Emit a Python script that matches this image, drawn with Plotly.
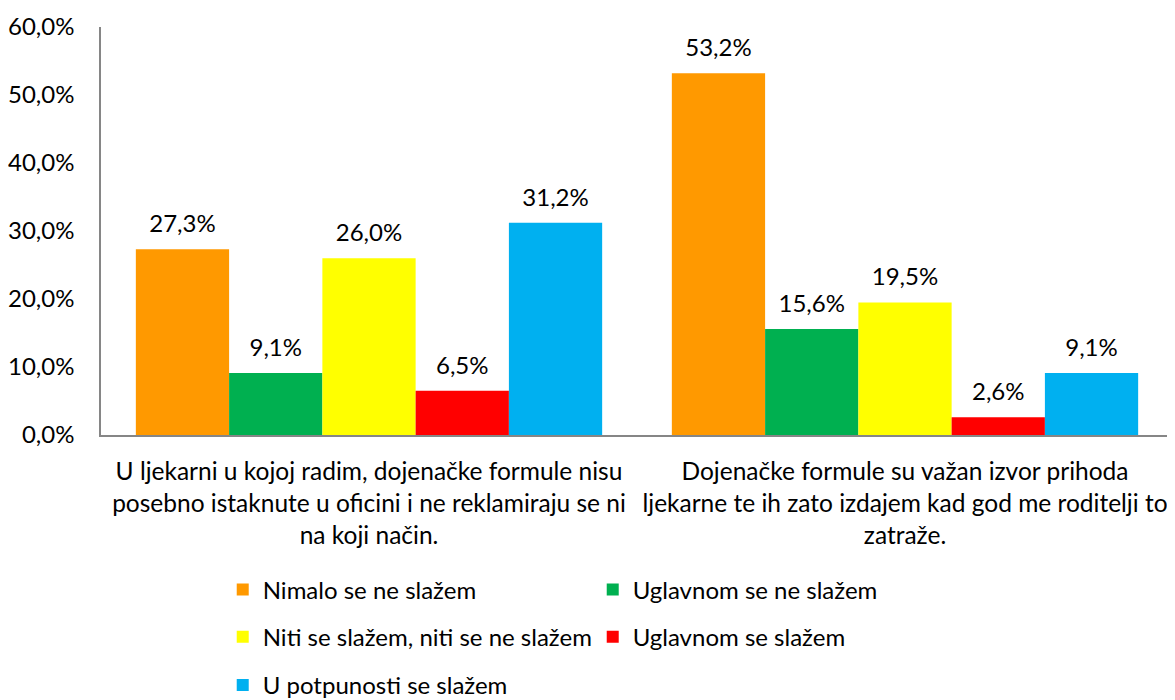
import plotly.graph_objects as go

categories = [
    "U ljekarni u kojoj radim, dojenačke formule nisu<br>posebno istaknute u oficini i ne reklamiraju se ni<br>na koji način.",
    "Dojenačke formule su važan izvor prihoda<br>ljekarne te ih zato izdajem kad god me roditelji to<br>zatraže.",
]
series_names = [
    "Nimalo se ne slažem",
    "Uglavnom se ne slažem",
    "Niti se slažem, niti se ne slažem",
    "Uglavnom se slažem",
    "U potpunosti se slažem",
]
nimalo = [27.3, 53.2]
uglavnom_ne = [9.1, 15.6]
niti = [26.0, 19.5]
uglavnom_da = [6.5, 2.6]
potpuno = [31.2, 9.1]
series_values = [nimalo, uglavnom_ne, niti, uglavnom_da, potpuno]
colors = ["#FF9900", "#00B050", "#FFFF00", "#FF0000", "#00B0F0"]
legend_ids = ["legend", "legend", "legend2", "legend2", "legend3"]
y_ticks = [0, 10, 20, 30, 40, 50, 60]

FONT = "Lato, 'Open Sans', sans-serif"
FS = 24

def fmt(v):
    return f"{v:.1f}".replace(".", ",") + "%"

fig = go.Figure()
for i, (name, vals, col, lg) in enumerate(zip(series_names, series_values, colors, legend_ids)):
    fig.add_trace(go.Bar(
        x=categories, y=vals, name=name, marker=dict(color=col, line=dict(width=0)),
        legend=lg, offsetgroup=str(i), hoverinfo="skip",
    ))
# value labels, grouped like the bars
for i, vals in enumerate(series_values):
    fig.add_trace(go.Scatter(
        x=categories, y=vals, mode="markers+text", orientation="v",
        offsetgroup=str(i), marker=dict(size=16, opacity=0),
        text=[fmt(v) for v in vals], textposition="top center",
        textfont=dict(size=FS, color="#000000", family=FONT),
        showlegend=False, hoverinfo="skip", cliponaxis=False,
    ))

legend_common = dict(
    orientation="h", xanchor="left", yanchor="middle",
    xref="container", yref="container", x=0.184,
    entrywidth=325, entrywidthmode="pixels",
    font=dict(size=FS, color="#000000", family=FONT),
    bgcolor="rgba(0,0,0,0)", traceorder="normal",
)

fig.update_layout(
    width=1167, height=692,
    margin=dict(l=93, r=2, t=19, b=265, autoexpand=False),
    paper_bgcolor="white", plot_bgcolor="white",
    font=dict(family=FONT, size=FS, color="#000000"),
    barmode="group", bargap=0.13, bargroupgap=0,
    scattermode="group", scattergap=0.13,
    legend=dict(y=0.159, **legend_common),
    legend2=dict(y=0.091, **legend_common),
    legend3=dict(y=0.021, **legend_common),
    xaxis=dict(showline=True, linecolor="#868686", linewidth=1.5, ticks="",
               showgrid=False, automargin=False,
               tickfont=dict(size=24.5, color="#000000", family=FONT),
               ticklabelstandoff=14),
    yaxis=dict(range=[0, 60], tickvals=y_ticks, ticktext=[fmt(v) for v in y_ticks],
               showline=True, linecolor="#868686", linewidth=1.5, ticks="",
               showgrid=False, zeroline=False, automargin=False,
               tickfont=dict(size=FS, color="#000000", family=FONT),
               ticklabelstandoff=20),
)

fig.write_html("out.html")
